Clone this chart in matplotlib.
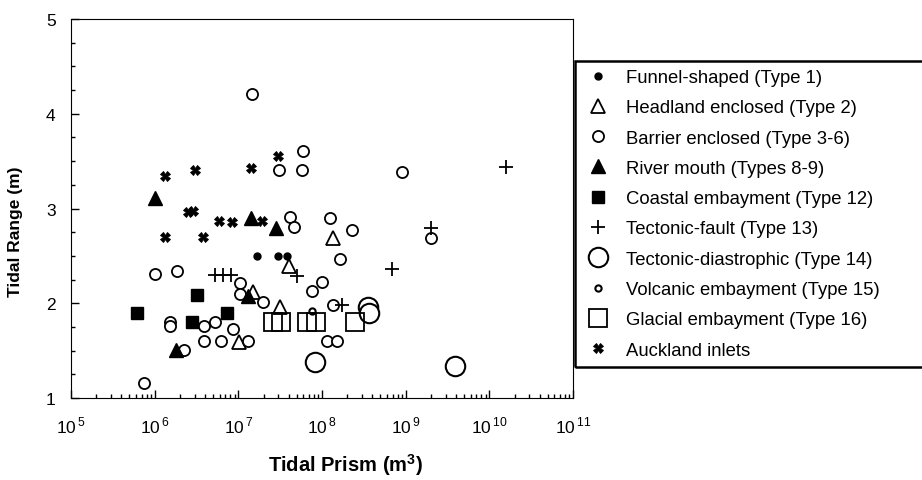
import numpy as np
import matplotlib.pyplot as plt
from matplotlib.patches import Rectangle
from matplotlib.ticker import FixedLocator, MultipleLocator, LogLocator, NullFormatter

plt.rcParams['font.family'] = ['Liberation Sans', 'DejaVu Sans']
plt.rcParams['mathtext.fontset'] = 'custom'
plt.rcParams['mathtext.rm'] = 'Liberation Sans'
plt.rcParams['mathtext.bf'] = 'Liberation Sans:bold'

# Tidal prism (m^3) and tidal range (m) for each inlet type
funnel_p = [1.68e7, 2.99e7, 3.84e7]
funnel_r = [2.5, 2.5, 2.5]

headland_p = [4.05e7, 1.5e7, 1.02e7, 3.16e7, 1.36e8]
headland_r = [2.39, 2.12, 1.59, 1.96, 2.69]

barrier_p = [1.46e7, 5.96e7, 3.08e7, 5.8e7, 9.1e8, 4.17e7, 4.65e7, 1.25e8,
             2.3e8, 1.65e8, 2.02e9, 1.01e6, 1.85e6, 1.05e7, 1.05e7, 1.98e7,
             7.6e7, 1.0e8, 1.36e8, 1.53e6, 1.53e6, 3.9e6, 5.3e6, 8.7e6,
             3.9e6, 6.2e6, 1.31e7, 2.25e6, 7.5e5, 1.15e8, 1.52e8]
barrier_r = [4.21, 3.61, 3.41, 3.41, 3.39, 2.91, 2.80, 2.90,
             2.77, 2.47, 2.69, 2.31, 2.34, 2.21, 2.10, 2.01,
             2.13, 2.22, 1.98, 1.80, 1.76, 1.76, 1.80, 1.73,
             1.60, 1.60, 1.60, 1.51, 1.16, 1.60, 1.60]

river_p = [1.0e6, 1.42e7, 2.83e7, 1.31e7, 1.8e6]
river_r = [3.11, 2.90, 2.79, 2.08, 1.51]

coastal_p = [6.2e5, 3.2e6, 2.8e6, 7.3e6]
coastal_r = [1.90, 2.09, 1.80, 1.90]

fault_p = [5.3e6, 6.6e6, 8.2e6, 5.05e7, 1.75e8, 6.9e8, 2.02e9, 1.6e10]
fault_r = [2.30, 2.30, 2.30, 2.29, 1.98, 2.36, 2.79, 3.44]

diastrophic_p = [3.5e8, 3.6e8, 8.3e7, 3.9e9]
diastrophic_r = [1.96, 1.90, 1.38, 1.34]

volcanic_p = [7.6e7]
volcanic_r = [1.92]

glacial_p = [2.6e7, 3.25e7, 6.65e7, 8.5e7, 2.5e8]
glacial_r = [1.80, 1.80, 1.80, 1.80, 1.80]

auckland_p = [1.33e6, 3.04e6, 1.42e7, 2.99e7, 2.5e6, 2.88e6, 5.9e6, 8.4e6,
              1.93e7, 1.33e6, 3.8e6]
auckland_r = [3.34, 3.41, 3.43, 3.55, 2.96, 2.97, 2.87, 2.86,
              2.87, 2.70, 2.70]

fig = plt.figure(figsize=(9.22, 4.81), dpi=100)
ax = fig.add_axes([71 / 922, 1 - 399 / 481, 502 / 922, 379 / 481])

k = dict(linestyle='none', color='black')
h = []
h += ax.plot(funnel_p, funnel_r, marker='o', ms=5, mfc='black', label='Funnel-shaped (Type 1)', **k)
h += ax.plot(headland_p, headland_r, marker='^', ms=10, mfc='white', mew=1.3, label='Headland enclosed (Type 2)', **k)
h += ax.plot(barrier_p, barrier_r, marker='o', ms=8, mfc='white', mew=1.3, label='Barrier enclosed (Type 3-6)', **k)
h += ax.plot(river_p, river_r, marker='^', ms=10, mfc='black', label='River mouth (Types 8-9)', **k)
h += ax.plot(coastal_p, coastal_r, marker='s', ms=9, mfc='black', label='Coastal embayment (Type 12)', **k)
h += ax.plot(fault_p, fault_r, marker='+', ms=10, mew=1.3, label='Tectonic-fault (Type 13)', **k)
h += ax.plot(diastrophic_p, diastrophic_r, marker='o', ms=14, mfc='white', mew=1.5, label='Tectonic-diastrophic (Type 14)', **k)
h += ax.plot(volcanic_p, volcanic_r, marker='o', ms=4.5, mfc='white', mew=1.5, label='Volcanic embayment (Type 15)', **k)
h += ax.plot(glacial_p, glacial_r, marker='s', ms=12.5, mfc='none', mew=1.3, label='Glacial embayment (Type 16)', **k)
h += ax.plot(auckland_p, auckland_r, marker='X', ms=7, mfc='black', mew=0.6, label='Auckland inlets', **k)

ax.set_xscale('log')
ax.set_xlim(1e5, 1e11)
ax.set_ylim(1, 5)

decades = [5, 6, 7, 8, 9, 10, 11]
ax.xaxis.set_major_locator(FixedLocator([10.0 ** d for d in decades]))
ax.set_xticklabels([r'10$^{\,%d}$' % d for d in decades])
ax.xaxis.set_minor_locator(LogLocator(base=10, subs=np.arange(2, 10), numticks=20))
ax.xaxis.set_minor_formatter(NullFormatter())
ax.yaxis.set_major_locator(MultipleLocator(1))
ax.yaxis.set_minor_locator(MultipleLocator(0.25))

ax.tick_params(which='both', direction='in', top=False, right=False, labelsize=12.5)
ax.tick_params(which='major', length=6, width=1)
ax.tick_params(which='minor', length=3, width=1)
ax.tick_params(axis='x', which='major', pad=12)
ax.tick_params(axis='y', which='major', pad=11)

ax.set_xlabel(r'Tidal Prism (m$^\mathbf{3}$)', fontsize=14.5, fontweight='bold')
ax.xaxis.set_label_coords(0.546, -0.14)
ax.set_ylabel('Tidal Range (m)', fontsize=12.5, fontweight='bold')
ax.yaxis.set_label_coords(-0.095, 0.44)

# legend box runs off the right edge of the figure
fig.patches.append(Rectangle((575 / 922, 1 - 368 / 481), 360 / 922, 306 / 481,
                             transform=fig.transFigure, fill=False,
                             edgecolor='black', linewidth=1.8))
fig.legend(handles=h, loc='upper left', bbox_to_anchor=(587 / 922, 1 - 70 / 481),
           frameon=False, fontsize=13.3, labelspacing=0.72, handletextpad=0.9,
           handlelength=1.2, borderpad=0, borderaxespad=0, numpoints=1)

fig.savefig('out.png', dpi=100)
